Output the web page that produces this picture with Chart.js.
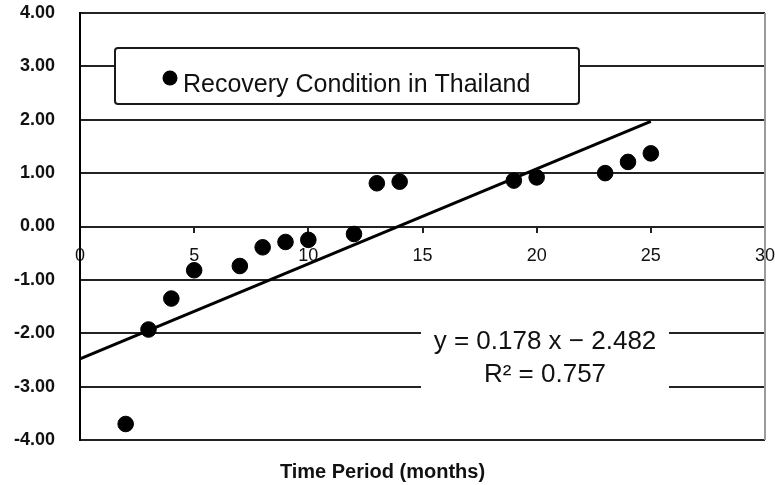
<!DOCTYPE html>
<html>
<head>
<meta charset="utf-8">
<script src="https://cdn.jsdelivr.net/npm/chart.js@4.4.0/dist/chart.umd.min.js"></script>
<style>
  html, body { margin: 0; padding: 0; background: #fff; }
  #wrap { width: 775px; height: 485px; }
</style>
</head>
<body>
<div id="wrap"><canvas id="mycanvas"></canvas></div>
<script>
// months since the crisis and the recovery index for each
var months = [2, 3, 4, 5, 7, 8, 9, 10, 12, 13, 14, 19, 20, 23, 24, 25];
var recovery = [-3.70, -1.93, -1.35, -0.82, -0.74, -0.39, -0.29, -0.25, -0.14, 0.81, 0.84, 0.86, 0.92, 1.00, 1.21, 1.37];

// linear fit, as printed on the chart
var slope = 0.178;
var intercept = -2.482;
var rSquared = 0.757;
var fitRange = [0, 25];

var seriesName = 'Recovery Condition in Thailand';
var xTitle = 'Time Period (months)';

var points = [];
for (var i in months) {
  points.push({ x: months[i], y: recovery[i] });
}
var fitLine = fitRange.map(function(x) {
  return { x: x, y: slope * x + intercept };
});

var FONT = '"Liberation Sans", Arial, sans-serif';

// boxed legend and the equation label drawn over the grid
var overlay = {
  id: 'overlay',
  afterDatasetsDraw: function(chart) {
    var ctx = chart.ctx;
    var area = chart.chartArea;
    ctx.save();

    // grey right border of the plot
    ctx.strokeStyle = '#9a9a9a';
    ctx.lineWidth = 2;
    ctx.beginPath();
    ctx.moveTo(area.right, area.top);
    ctx.lineTo(area.right, area.bottom);
    ctx.stroke();

    // legend box
    ctx.fillStyle = '#fff';
    ctx.strokeStyle = '#1a1a1a';
    ctx.lineWidth = 2;
    ctx.beginPath();
    ctx.roundRect(115, 48, 464, 56, 3);
    ctx.fill();
    ctx.stroke();
    ctx.fillStyle = '#000';
    ctx.beginPath();
    ctx.arc(170, 78, 7.5, 0, Math.PI * 2);
    ctx.fill();
    ctx.font = '25px ' + FONT;
    ctx.textAlign = 'left';
    ctx.textBaseline = 'alphabetic';
    ctx.fillStyle = '#111';
    ctx.fillText(seriesName, 183, 92);

    // regression equation
    ctx.fillStyle = '#fff';
    ctx.fillRect(421, 318, 248, 78);
    ctx.fillStyle = '#111';
    ctx.textAlign = 'center';
    ctx.textBaseline = 'middle';
    ctx.font = '26px ' + FONT;
    var sign = intercept < 0 ? '\u2212' : '+';
    ctx.fillText('y = ' + slope.toFixed(3) + ' x ' + sign + ' ' + Math.abs(intercept).toFixed(3), 545, 342);
    ctx.fillText('R\u00b2 = ' + rSquared.toFixed(3), 545, 375);
    ctx.restore();
  }
};

var ctx = document.getElementById('mycanvas');

var chart = new Chart(ctx, {
  type: 'scatter',
  data: {
    datasets: [
      {
        label: seriesName,
        data: points,
        backgroundColor: '#000',
        borderColor: '#000',
        pointRadius: 7.8,
        pointHoverRadius: 7.8,
        order: 1
      },
      {
        type: 'line',
        label: 'Linear fit',
        data: fitLine,
        borderColor: '#000',
        borderWidth: 3,
        pointRadius: 0,
        fill: false,
        order: 2
      }
    ]
  },
  options: {
    responsive: true,
    maintainAspectRatio: false,
    animation: false,
    layout: { padding: { top: 13, right: 10, left: 0, bottom: 0 } },
    plugins: {
      legend: { display: false },
      tooltip: { enabled: false },
      title: {
        display: true,
        position: 'bottom',
        text: xTitle,
        color: '#111',
        font: { family: FONT, size: 20, weight: 'bold' },
        padding: { top: 20, bottom: 1 }
      }
    },
    scales: {
      x: {
        type: 'linear',
        position: { y: 0 },
        min: 0,
        max: 30,
        // keep the tick padding from pushing the plot edges inward
        afterFit: function(scale) { scale.paddingLeft = 0; scale.paddingRight = 0; },
        ticks: {
          stepSize: 5,
          padding: 14,
          color: '#111',
          font: { family: FONT, size: 18 },
          maxRotation: 0
        },
        grid: {
          drawOnChartArea: false,
          drawTicks: true,
          tickLength: 5,
          color: '#222',
          lineWidth: 2
        },
        border: { display: true, color: '#222', width: 2 }
      },
      y: {
        type: 'linear',
        min: -4,
        max: 4,
        afterFit: function(scale) {
          scale.width = 80;
          scale.paddingTop = 0;
          scale.paddingBottom = 0;
        },
        ticks: {
          stepSize: 1,
          padding: 25,
          color: '#111',
          font: { family: FONT, size: 18, weight: 'bold' },
          callback: function(v) { return v.toFixed(2); }
        },
        grid: {
          drawTicks: false,
          color: '#222',
          lineWidth: 2
        },
        border: { display: true, color: '#000', width: 2 }
      }
    }
  },
  plugins: [overlay]
});
</script>
</body>
</html>
